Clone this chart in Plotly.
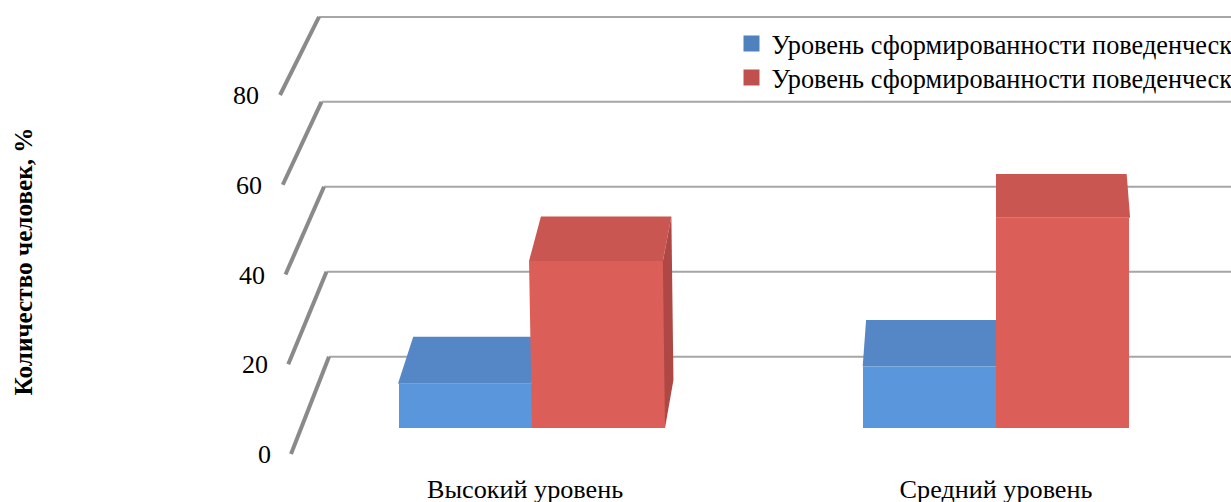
import plotly.graph_objects as go

# ---- data ----
categories = ["Высокий уровень", "Средний уровень"]
series_names = ["Уровень сформированности поведенческих",
                "Уровень сформированности поведенческих"]
series_a = [10.0, 13.9]
series_b = [37.8, 47.6]
ticks = [0, 20, 40, 60, 80]
tick_labels = ["0", "20", "40", "60", "80"]
label_pos = [-0.015, 1.0]
axis_title = "Количество человек, %"

# ---- appearance ----
W, H = 1231, 502
SPILL = 40  # the legend text runs past the right edge of the picture, as in the reference
SPILL_B = 10  # room below the picture so the category labels do not shrink the plot
FONT = "Liberation Serif"
BLUE, BLUE_TOP, BLUE_KEY = "#5A96DC", "#5586C6", "#4F81BD"
RED, RED_TOP, RED_SIDE, RED_KEY = "#DC5E58", "#CA5651", "#AF4844", "#C0504D"
BAR_W = 133 / 464

# depth of a bar in axis units: oblique projection with slight perspective
def back_x(x):
    return x + 0.0255 * (1 - x)

def back_v(v):
    return v + 10.84 - 0.02 * v

def lean(x, v):
    return -0.00017 * (1 - x) * v

# wall geometry, in tick units
def wall_front_x(v):
    return -0.5194 - 0.000296 * v

def wall_back_x(v):
    return -0.4375 - 0.000269 * v

def wall_back_v(v):
    return 21.68 + 0.9466 * v

def tick_label_x(v):
    return -0.5625 - 0.000323 * v

fig = go.Figure()

# walls
sx, sy, hx, hy = [], [], [], []
for t in ticks:
    sx += [wall_front_x(t), wall_back_x(t), None]
    sy += [t, wall_back_v(t), None]
    hx += [wall_back_x(t), 2, None]
    hy += [wall_back_v(t), wall_back_v(t), None]
fig.add_trace(go.Scatter(x=hx, y=hy, mode="lines", showlegend=False, hoverinfo="skip",
                         line=dict(color="#A6A6A6", width=2)))
fig.add_trace(go.Scatter(x=sx, y=sy, mode="lines", showlegend=False, hoverinfo="skip",
                         line=dict(color="#8A8A8A", width=4)))
fig.add_trace(go.Scatter(x=[tick_label_x(t) for t in ticks], y=[t - 0.6 for t in ticks], mode="text",
                         text=tick_labels, textposition="middle left",
                         textfont=dict(family=FONT, size=26, color="black"),
                         showlegend=False, hoverinfo="skip"))

# legend keys
for name, col, leg in zip(series_names, [BLUE_KEY, RED_KEY], ["legend", "legend2"]):
    fig.add_trace(go.Scatter(x=[None], y=[None], mode="markers", name=name, legend=leg,
                             marker=dict(symbol="square", size=16, color=col)))

def face(x, x_end, v):
    xa, xb = x + lean(x, v), x_end + lean(x_end, v)
    return [xa, xb, back_x(xb), back_x(xa), xa], [v, v, back_v(v), back_v(v), v]

# series A
for i, v in enumerate(series_a):
    xs, ys = face(i - BAR_W, i, v)
    fig.add_trace(go.Scatter(x=xs, y=ys, yaxis="y2", mode="lines", fill="toself", fillcolor=BLUE_TOP,
                             line=dict(width=0), showlegend=False, hoverinfo="skip", zorder=1))
fig.add_trace(go.Bar(x=[i - BAR_W / 2 for i in range(len(categories))], y=series_a, width=BAR_W, yaxis="y2",
                     marker=dict(color=BLUE, line=dict(width=0)), name=series_names[0],
                     showlegend=False, zorder=2))

# series B
for i, v in enumerate(series_b):
    xs, ys = face(i, i + BAR_W, v)
    fig.add_trace(go.Scatter(x=xs, y=ys, yaxis="y2", mode="lines", fill="toself", fillcolor=RED_TOP,
                             line=dict(width=0), showlegend=False, hoverinfo="skip", zorder=3))
fig.add_trace(go.Bar(x=[i + BAR_W / 2 for i in range(len(categories))], y=series_b, width=BAR_W, yaxis="y2",
                     marker=dict(color=RED, line=dict(width=0)), name=series_names[1],
                     showlegend=False, zorder=4))
for i, v in enumerate(series_b):
    x0, x1 = i, i + BAR_W
    xt = x1 + lean(x1, v)
    if x1 < 1:  # the right side only shows left of the vanishing point
        fig.add_trace(go.Scatter(x=[xt, back_x(xt), back_x(x1), x1, xt],
                                 y=[v, back_v(v), back_v(0), 0, v], yaxis="y2",
                                 mode="lines", fill="toself", fillcolor=RED_SIDE,
                                 line=dict(width=0), showlegend=False, hoverinfo="skip", zorder=5))
    fig.add_trace(go.Scatter(x=[x0, x0 + lean(x0, v), x0, x0],
                             y=[0, v, v, 0], yaxis="y2",
                             mode="lines", fill="toself", fillcolor=RED,
                             line=dict(width=0), showlegend=False, hoverinfo="skip", zorder=5))

fig.update_layout(
    width=W + SPILL, height=H + SPILL_B, margin=dict(l=0, r=SPILL, t=0, b=SPILL_B), autosize=False,
    paper_bgcolor="white", plot_bgcolor="white", barmode="overlay",
    font=dict(family=FONT, size=26, color="black"),
    xaxis=dict(range=[-532 / 464, (W - 532) / 464], showgrid=False, zeroline=False, showline=False,
               tickmode="array", tickvals=label_pos, ticktext=categories, ticks="",
               ticklabelposition="inside", ticklabelstandoff=-4,
               tickfont=dict(family=FONT, size=26.2, color="black")),
    yaxis=dict(range=[-48 / 4.4875, 454 / 4.4875], showgrid=False, zeroline=False, showline=False,
               showticklabels=False, ticks=""),
    yaxis2=dict(range=[-74 / 4.417, 428 / 4.417], overlaying="y", visible=False),
    legend=dict(x=731.5 / W, xanchor="left", y=1 - 20 / H, yanchor="top", bgcolor="rgba(0,0,0,0)",
                font=dict(family=FONT, size=26.3), itemclick=False),
    legend2=dict(x=731.5 / W, xanchor="left", y=1 - 54 / H, yanchor="top", bgcolor="rgba(0,0,0,0)",
                 font=dict(family=FONT, size=26.3), itemclick=False),
    annotations=[dict(text="<b>%s</b>" % axis_title, xref="paper", yref="paper", x=22.5 / W, y=1 - 262 / H,
                      xanchor="center", yanchor="middle", textangle=-90, showarrow=False,
                      font=dict(family=FONT, size=25.2))],
    showlegend=True,
)
fig.write_html("out.html", config=dict(displayModeBar=False),
               post_script="document.body.style.margin='0';document.body.style.overflow='hidden';"
                           "document.documentElement.style.overflow='hidden';")
